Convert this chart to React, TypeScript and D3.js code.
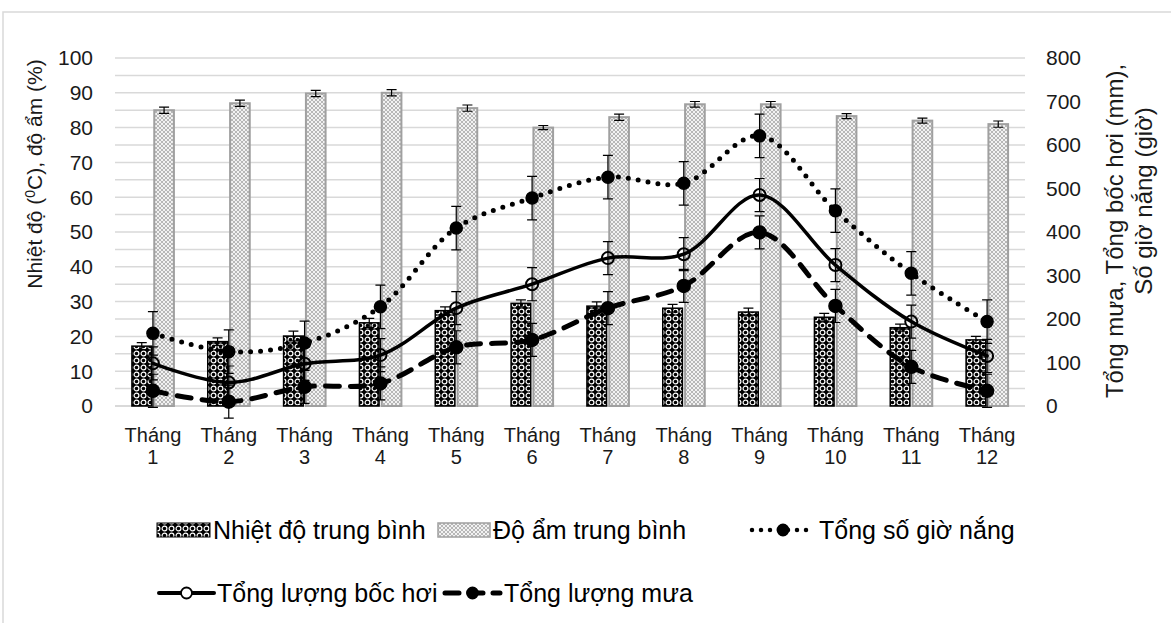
import { useEffect, useRef } from 'react'
import * as d3 from 'd3'

const months = ['1', '2', '3', '4', '5', '6', '7', '8', '9', '10', '11', '12']
const leftTicks = [0, 10, 20, 30, 40, 50, 60, 70, 80, 90, 100]
const rightTicks = [0, 100, 200, 300, 400, 500, 600, 700, 800]

// left axis series (°C, %)
const temperature = [17.2, 18.5, 20.1, 23.9, 27.4, 29.5, 28.7, 28.1, 27.0, 25.5, 22.5, 19.0]
const temperatureErr = [1.0, 1.1, 1.4, 1.3, 1.1, 1.0, 1.2, 1.1, 1.1, 1.1, 1.0, 1.0]
const humidity = [85.0, 87.0, 89.8, 90.0, 85.6, 80.0, 83.0, 86.7, 86.7, 83.3, 82.0, 81.0]
const humidityErr = [0.9, 0.9, 0.9, 0.9, 0.9, 0.6, 0.9, 0.8, 0.8, 0.7, 0.7, 0.9]

// right axis series (mm, giờ)
const sunshine = [167, 125, 145, 228, 409, 478, 526, 512, 621, 449, 305, 194]
const sunshineErr = [50, 50, 50, 50, 50, 50, 50, 50, 50, 50, 50, 50]
const evaporation = [98, 54, 97, 117, 225, 280, 340, 349, 485, 324, 194, 115]
const evaporationErr = [38, 38, 38, 38, 38, 38, 38, 38, 38, 38, 38, 38]
const rainfall = [35, 10, 44, 52, 135, 152, 225, 276, 399, 230, 90, 35]
const rainfallErr = [38, 38, 38, 38, 38, 38, 38, 38, 38, 38, 38, 38]

const W = 1171
const H = 623
const FONT = '"Liberation Sans", Arial, sans-serif'

export default function App() {
  const svgRef = useRef<SVGSVGElement>(null)

  useEffect(() => {
    if (!svgRef.current) return
    const svg = d3.select(svgRef.current)
    svg.selectAll('*').remove()

    const left = 115
    const right = 1025
    const top = 58
    const bottom = 406

    const x = d3.scaleBand<string>().domain(months).range([left, right])
    const cx = (m: string) => (x(m) as number) + x.bandwidth() / 2
    const sub = d3.scaleBand<string>().domain(['t', 'h']).range([-21, 21]).paddingInner(0.12)
    const yL = d3.scaleLinear().domain([0, 100]).range([bottom, top])
    const yR = d3.scaleLinear().domain([0, 800]).range([bottom, top])

    const defs = svg.append('defs')
    const dp = defs.append('pattern').attr('id', 'darkPat').attr('patternUnits', 'userSpaceOnUse')
      .attr('width', 7).attr('height', 7)
    dp.append('rect').attr('width', 7).attr('height', 7).attr('fill', '#000')
    dp.append('circle').attr('cx', 3.5).attr('cy', 3.5).attr('r', 2.4).attr('fill', 'none')
      .attr('stroke', '#fff').attr('stroke-width', 1.2)
    const lp = defs.append('pattern').attr('id', 'lightPat').attr('patternUnits', 'userSpaceOnUse')
      .attr('width', 4).attr('height', 4)
    lp.append('rect').attr('width', 4).attr('height', 4).attr('fill', '#f2f2f2')
    lp.append('path').attr('d', 'M0,0L4,4M4,0L0,4').attr('stroke', '#a8a8a8').attr('stroke-width', 0.8)

    // chart border
    svg.append('rect').attr('x', 3).attr('y', 12).attr('width', 1300).attr('height', 800)
      .attr('fill', '#fff').attr('stroke', '#d9d9d9').attr('stroke-width', 1.5)

    // gridlines
    svg.append('g').selectAll('line').data(d3.range(0, 101, 5)).enter().append('line')
      .attr('x1', left).attr('x2', right)
      .attr('y1', (d) => yL(d)).attr('y2', (d) => yL(d))
      .attr('stroke', '#d9d9d9').attr('stroke-width', (d) => (d === 0 ? 2 : 1.5))

    // tick labels
    svg.append('g').selectAll('text').data(leftTicks).enter().append('text')
      .attr('x', 93).attr('y', (d) => yL(d)).attr('dy', '0.35em')
      .attr('text-anchor', 'end').style('font-family', FONT).style('font-size', '21px')
      .attr('fill', '#1a1a1a').text((d) => d)
    svg.append('g').selectAll('text').data(rightTicks).enter().append('text')
      .attr('x', 1046).attr('y', (d) => yR(d)).attr('dy', '0.35em')
      .attr('text-anchor', 'start').style('font-family', FONT).style('font-size', '21px')
      .attr('fill', '#1a1a1a').text((d) => d)

    const xl = svg.append('g').selectAll('text').data(months).enter().append('text')
      .attr('text-anchor', 'middle').style('font-family', FONT).style('font-size', '20px')
      .attr('fill', '#1a1a1a')
    xl.append('tspan').attr('x', (d) => cx(d)).attr('y', 442).text('Tháng')
    xl.append('tspan').attr('x', (d) => cx(d)).attr('y', 464).text((d) => d)

    // axis titles
    const lt = svg.append('text').attr('transform', 'translate(42,174) rotate(-90)')
      .attr('text-anchor', 'middle').style('font-family', FONT).style('font-size', '21px')
      .attr('fill', '#1a1a1a')
    lt.append('tspan').text('Nhiệt độ (')
    lt.append('tspan').attr('dy', -7).style('font-size', '14px').text('0')
    lt.append('tspan').attr('dy', 7).text('C), độ ẩm (%)')

    svg.append('text').attr('transform', 'translate(1123,231) rotate(-90)')
      .attr('text-anchor', 'middle').style('font-family', FONT).style('font-size', '24px')
      .attr('fill', '#1a1a1a').text('Tổng mưa, Tổng bốc hơi (mm),')
    svg.append('text').attr('transform', 'translate(1152,201) rotate(-90)')
      .attr('text-anchor', 'middle').style('font-family', FONT).style('font-size', '24px')
      .attr('fill', '#1a1a1a').text('Số giờ nắng (giờ)')

    // bars
    const drawBars = (vals: number[], errs: number[], key: string, fill: string, stroke: string, sw: number) => {
      const g = svg.append('g')
      g.selectAll('rect').data(vals).enter().append('rect')
        .attr('x', (d, i) => cx(months[i]) + (sub(key) as number))
        .attr('width', sub.bandwidth())
        .attr('y', (d) => yL(d)).attr('height', (d) => yL(0) - yL(d))
        .attr('fill', fill).attr('stroke', stroke).attr('stroke-width', sw)
      const bx = (i: number) => cx(months[i]) + (sub(key) as number) + sub.bandwidth() / 2
      g.selectAll('path.err').data(vals).enter().append('path').attr('class', 'err')
        .attr('d', (d, i) => {
          const xx = bx(i)
          const y1 = yL(d + errs[i])
          const y2 = yL(d - errs[i])
          return `M${xx - 5},${y1}H${xx + 5}M${xx},${y1}V${y2}M${xx - 5},${y2}H${xx + 5}`
        })
        .attr('fill', 'none').attr('stroke', '#000').attr('stroke-width', 1.2)
    }
    drawBars(temperature, temperatureErr, 't', 'url(#darkPat)', '#000', 1.5)
    drawBars(humidity, humidityErr, 'h', 'url(#lightPat)', '#a0a0a0', 2)

    // lines
    const line = d3.line<number>()
      .x((d, i) => cx(months[i]))
      .y((d) => yR(d))
      .curve(d3.curveCatmullRom.alpha(0.5))

    const drawErr = (vals: number[], errs: number[]) => {
      svg.append('g').selectAll('path').data(vals).enter().append('path')
        .attr('d', (d, i) => {
          const xx = cx(months[i])
          const y1 = yR(d + errs[i])
          const y2 = yR(d - errs[i])
          return `M${xx - 5},${y1}H${xx + 5}M${xx},${y1}V${y2}M${xx - 5},${y2}H${xx + 5}`
        })
        .attr('fill', 'none').attr('stroke', '#000').attr('stroke-width', 1.2)
    }

    const drawLine = (vals: number[], errs: number[], dash: string | null, width: number,
      markerFill: string, r: number, msw: number) => {
      drawErr(vals, errs)
      svg.append('path').datum(vals).attr('d', line)
        .attr('fill', 'none').attr('stroke', '#000').attr('stroke-width', width)
        .attr('stroke-linecap', 'round')
        .attr('stroke-dasharray', dash)
      svg.append('g').selectAll('circle').data(vals).enter().append('circle')
        .attr('cx', (d, i) => cx(months[i])).attr('cy', (d) => yR(d)).attr('r', r)
        .attr('fill', markerFill).attr('stroke', '#000').attr('stroke-width', msw)
    }
    drawLine(sunshine, sunshineErr, '0 10', 5, '#000', 6, 1.5)
    drawLine(evaporation, evaporationErr, null, 3.5, 'none', 6, 2)
    drawLine(rainfall, rainfallErr, '14 11', 5, '#000', 6.5, 1.5)

    // legend
    const lg = svg.append('g').style('font-family', FONT).style('font-size', '25px').attr('fill', '#000')
    const row1 = 530
    const row2 = 593
    lg.append('rect').attr('x', 157).attr('y', row1 - 7).attr('width', 53).attr('height', 14)
      .attr('fill', 'url(#darkPat)').attr('stroke', '#000').attr('stroke-width', 1)
    lg.append('text').attr('x', 213).attr('y', row1).attr('dy', '0.35em').text('Nhiệt độ trung bình')
    lg.append('rect').attr('x', 438).attr('y', row1 - 7).attr('width', 52).attr('height', 14)
      .attr('fill', 'url(#lightPat)').attr('stroke', '#a0a0a0').attr('stroke-width', 1.5)
    lg.append('text').attr('x', 493).attr('y', row1).attr('dy', '0.35em').text('Độ ẩm trung bình')

    const sample = (x1: number, x2: number, y: number, dash: string | null, width: number, fill: string) => {
      lg.append('line').attr('x1', x1).attr('x2', x2).attr('y1', y).attr('y2', y)
        .attr('stroke', '#000').attr('stroke-width', width).attr('stroke-linecap', 'round')
        .attr('stroke-dasharray', dash)
      lg.append('circle').attr('cx', (x1 + x2) / 2).attr('cy', y).attr('r', 5.5)
        .attr('fill', fill).attr('stroke', '#000').attr('stroke-width', 1.8)
    }
    sample(752, 814, row1, '0 9', 4.5, '#000')
    lg.append('text').attr('x', 819).attr('y', row1).attr('dy', '0.35em').text('Tổng số giờ nắng')
    sample(159, 214, row2, null, 4, '#fff')
    lg.append('text').attr('x', 217).attr('y', row2).attr('dy', '0.35em').text('Tổng lượng bốc hơi')
    sample(445, 500, row2, '14 10', 5, '#000')
    lg.append('text').attr('x', 504).attr('y', row2).attr('dy', '0.35em').text('Tổng lượng mưa')
  }, [])

  return (
    <svg ref={svgRef} width={W} height={H}
      style={{ position: 'absolute', left: 0, top: 0, background: '#fff' }} />
  )
}
